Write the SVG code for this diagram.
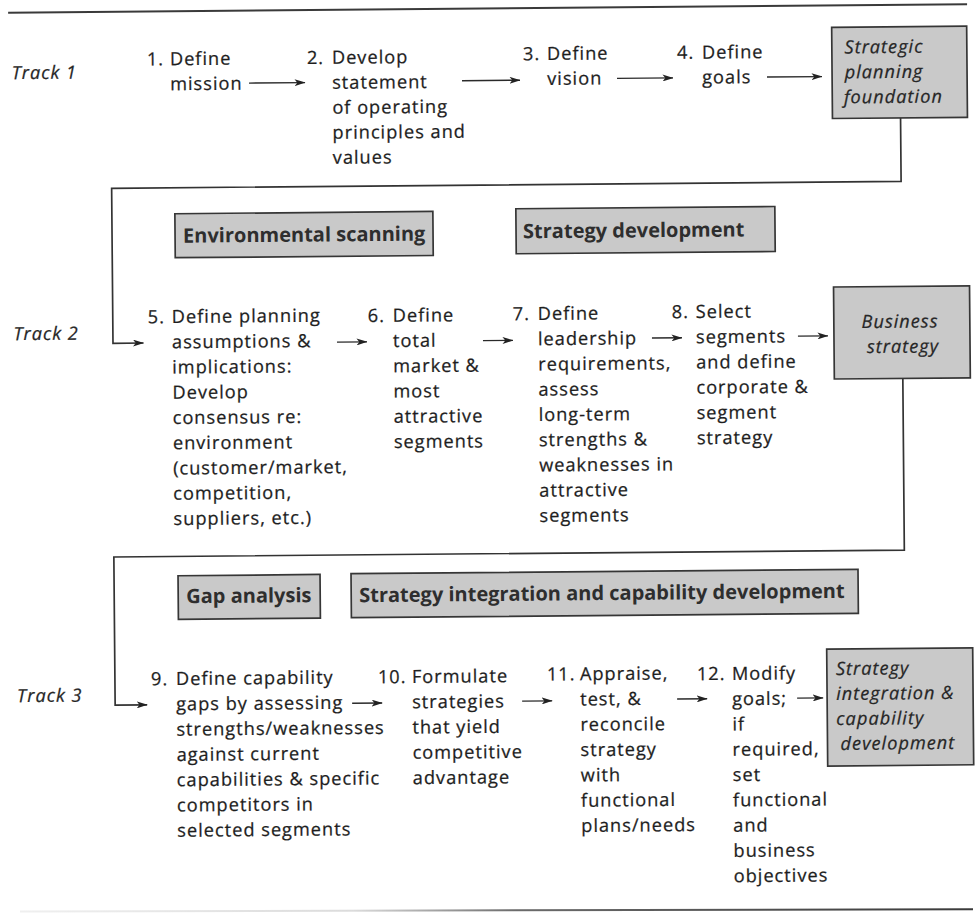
<svg xmlns="http://www.w3.org/2000/svg" width="978" height="914" viewBox="0 0 978 914">
  <defs>
    <style>
      .t { font-family: "Open Sans", "Noto Sans", sans-serif; font-size: 18.2px; letter-spacing: 1px; fill: #1e1e1e; stroke: #1e1e1e; stroke-width: 0.25px; }
      .trk { font-family: "Open Sans", "Noto Sans", sans-serif; font-size: 18.2px; letter-spacing: 1px; font-style: italic; fill: #262626; stroke: #262626; stroke-width: 0.25px; }
      .hd { font-family: "Open Sans", "Noto Sans", sans-serif; font-size: 20px; font-weight: 700; fill: #2e2e2e; }
      .res { font-family: "Open Sans", "Noto Sans", sans-serif; font-size: 18.2px; letter-spacing: 1px; font-style: italic; fill: #262626; stroke: #262626; stroke-width: 0.25px; }
      .box { fill: #c9c9c9; stroke: #363636; stroke-width: 1.7; }
      .rule { stroke: #3a3a3a; stroke-width: 2; fill: none; }
      .arrow { stroke: #2a2a2a; stroke-width: 1.4; fill: none; marker-end: url(#ah); }
      .link { stroke: #333; stroke-width: 1.7; fill: none; marker-end: url(#ah); }
    </style>
    <marker id="ah" viewBox="0 0 11 7" refX="10.5" refY="3.5" markerWidth="11" markerHeight="7" markerUnits="userSpaceOnUse" orient="auto">
      <path d="M0,0 L11,3.5 L0,7 L2.8,3.5 z" fill="#222"/>
    </marker>
    <linearGradient id="fade" x1="0" y1="0" x2="1" y2="0">
      <stop offset="0" stop-color="#3a3a3a" stop-opacity="0.08"/>
      <stop offset="0.35" stop-color="#3a3a3a" stop-opacity="0.18"/>
      <stop offset="0.52" stop-color="#3a3a3a" stop-opacity="0.75"/>
      <stop offset="1" stop-color="#3a3a3a" stop-opacity="1"/>
    </linearGradient>
  </defs>

  <rect x="0" y="0" width="978" height="914" fill="#ffffff"/>

  <!-- whole page sits slightly tilted -->
  <g transform="rotate(-0.5 489 457)">
    <line class="rule" x1="12" y1="8.5" x2="971" y2="8.5"/>

    <!-- track labels -->
    <text id="track-1" class="trk" x="15" y="75">Track 1</text>
    <text id="track-2" class="trk" x="14.5" y="336">Track 2</text>
    <text id="track-3" class="trk" x="15" y="698">Track 3</text>

    <!-- ===== Track 1 ===== -->
    <g id="step-1">
      <text class="t" x="150.4" y="62.5">1.</text>
      <text class="t"><tspan x="173.4" y="62.5">Define</tspan><tspan x="173.4" y="87.5">mission</tspan></text>
    </g>
    <g id="step-2">
      <text class="t" x="310.4" y="62.5">2.</text>
      <text class="t">
        <tspan x="335.4" y="62.5">Develop</tspan>
        <tspan x="335.4" y="87.5">statement</tspan>
        <tspan x="335.4" y="112.5">of operating</tspan>
        <tspan x="335.4" y="137.5">principles and</tspan>
        <tspan x="335.4" y="162.5">values</tspan>
      </text>
    </g>
    <g id="step-3">
      <text class="t" x="526.5" y="60.5">3.</text>
      <text class="t"><tspan x="550.5" y="60.5">Define</tspan><tspan x="550.5" y="85.5">vision</tspan></text>
    </g>
    <g id="step-4">
      <text class="t" x="680.5" y="60.5">4.</text>
      <text class="t"><tspan x="705.5" y="60.5">Define</tspan><tspan x="705.5" y="85.5">goals</tspan></text>
    </g>
    <g id="strategic-planning-foundation">
      <rect class="box" x="835.4" y="30.3" width="135" height="91.2"/>
      <text class="res">
        <tspan x="848" y="56.5">Strategic</tspan>
        <tspan x="848" y="81.5">planning</tspan>
        <tspan x="847" y="106.5">foundation</tspan>
      </text>
    </g>

    <!-- ===== Track 2 ===== -->
    <g id="environmental-scanning">
      <rect class="box" x="177" y="211" width="258" height="44"/>
      <text class="hd" x="185" y="240">Environmental scanning</text>
    </g>
    <g id="strategy-development">
      <rect class="box" x="518" y="209" width="259" height="45"/>
      <text class="hd" x="525" y="238.6">Strategy development</text>
    </g>
    <g id="step-5">
      <text class="t" x="149" y="320.3">5.</text>
      <text class="t">
        <tspan x="173" y="320.3">Define planning</tspan>
        <tspan x="173" y="345.55">assumptions &amp;</tspan>
        <tspan x="173" y="370.8">implications:</tspan>
        <tspan x="173" y="396.05">Develop</tspan>
        <tspan x="173" y="421.3">consensus re:</tspan>
        <tspan x="173" y="446.55">environment</tspan>
        <tspan x="173" y="471.8">(customer/market,</tspan>
        <tspan x="173" y="497.05">competition,</tspan>
        <tspan x="173" y="522.3">suppliers, etc.)</tspan>
      </text>
    </g>
    <g id="step-6">
      <text class="t" x="369" y="321">6.</text>
      <text class="t">
        <tspan x="394" y="321">Define</tspan>
        <tspan x="394" y="346.25">total</tspan>
        <tspan x="394" y="371.5">market &amp;</tspan>
        <tspan x="394" y="396.75">most</tspan>
        <tspan x="394" y="422">attractive</tspan>
        <tspan x="394" y="447.25">segments</tspan>
      </text>
    </g>
    <g id="step-7">
      <text class="t" x="514" y="320.4">7.</text>
      <text class="t">
        <tspan x="539" y="320.4">Define</tspan>
        <tspan x="539" y="345.65">leadership</tspan>
        <tspan x="539" y="370.9">requirements,</tspan>
        <tspan x="539" y="396.15">assess</tspan>
        <tspan x="539" y="421.4">long-term</tspan>
        <tspan x="539" y="446.65">strengths &amp;</tspan>
        <tspan x="539" y="471.9">weaknesses in</tspan>
        <tspan x="539" y="497.15">attractive</tspan>
        <tspan x="539" y="522.4">segments</tspan>
      </text>
    </g>
    <g id="step-8">
      <text class="t" x="673" y="319.8">8.</text>
      <text class="t">
        <tspan x="697" y="319.8">Select</tspan>
        <tspan x="697" y="345.05">segments</tspan>
        <tspan x="697" y="370.3">and define</tspan>
        <tspan x="697" y="395.55">corporate &amp;</tspan>
        <tspan x="697" y="420.8">segment</tspan>
        <tspan x="697" y="446.05">strategy</tspan>
      </text>
    </g>
    <g id="business-strategy">
      <rect class="box" x="835" y="290" width="136" height="92"/>
      <text class="res" text-anchor="middle">
        <tspan x="904" y="331.3">Business</tspan>
        <tspan x="904" y="356.3">strategy</tspan>
      </text>
    </g>

    <!-- ===== Track 3 ===== -->
    <g id="gap-analysis">
      <rect class="box" x="177" y="573" width="142" height="43.6"/>
      <text class="hd" x="185" y="600.5">Gap analysis</text>
    </g>
    <g id="strategy-integration-heading">
      <rect class="box" x="350" y="572.5" width="507" height="44"/>
      <text class="hd" x="358" y="601">Strategy integration and capability development</text>
    </g>
    <g id="step-9">
      <text class="t" x="149" y="682.3">9.</text>
      <text class="t">
        <tspan x="174" y="682.3">Define capability</tspan>
        <tspan x="174" y="707.6">gaps by assessing</tspan>
        <tspan x="174" y="732.9">strengths/weaknesses</tspan>
        <tspan x="174" y="758.2">against current</tspan>
        <tspan x="174" y="783.5">capabilities &amp; specific</tspan>
        <tspan x="174" y="808.8">competitors in</tspan>
        <tspan x="174" y="834.1">selected segments</tspan>
      </text>
    </g>
    <g id="step-10">
      <text class="t" x="376" y="682.3">10.</text>
      <text class="t">
        <tspan x="410" y="682.3">Formulate</tspan>
        <tspan x="410" y="707.6">strategies</tspan>
        <tspan x="410" y="732.9">that yield</tspan>
        <tspan x="410" y="758.2">competitive</tspan>
        <tspan x="410" y="783.5">advantage</tspan>
      </text>
    </g>
    <g id="step-11">
      <text class="t" x="545" y="681">11.</text>
      <text class="t">
        <tspan x="578" y="681">Appraise,</tspan>
        <tspan x="578" y="706.3">test, &amp;</tspan>
        <tspan x="578" y="731.6">reconcile</tspan>
        <tspan x="578" y="756.9">strategy</tspan>
        <tspan x="578" y="782.2">with</tspan>
        <tspan x="578" y="807.5">functional</tspan>
        <tspan x="578" y="832.8">plans/needs</tspan>
      </text>
    </g>
    <g id="step-12">
      <text class="t" x="695" y="682">12.</text>
      <text class="t">
        <tspan x="730" y="682">Modify</tspan>
        <tspan x="730" y="707.3">goals;</tspan>
        <tspan x="730" y="732.6">if</tspan>
        <tspan x="730" y="757.9">required,</tspan>
        <tspan x="730" y="783.2">set</tspan>
        <tspan x="730" y="808.5">functional</tspan>
        <tspan x="730" y="833.8">and</tspan>
        <tspan x="730" y="859.1">business</tspan>
        <tspan x="730" y="884.4">objectives</tspan>
      </text>
    </g>
    <g id="strategy-integration-result">
      <rect class="box" x="825" y="652" width="146" height="117"/>
      <text class="res">
        <tspan x="834" y="678">Strategy</tspan>
        <tspan x="834" y="703">integration &amp;</tspan>
        <tspan x="834" y="728">capability</tspan>
        <tspan x="838" y="753">development</tspan>
      </text>
    </g>

    <!-- ===== connectors ===== -->
    <g id="connectors">
      <path class="arrow" d="M252.3,81 H308.3"/>
      <path class="arrow" d="M465.3,80.5 H523.3"/>
      <path class="arrow" d="M620.3,79.5 H676.3"/>
      <path class="arrow" d="M770.3,79.5 H825.3"/>
      <path class="link" d="M903.5,121.5 V185 H114 V340 H144.5"/>

      <path class="arrow" d="M338,340.8 H368"/>
      <path class="arrow" d="M484,340.6 H514"/>
      <path class="arrow" d="M653,339.5 H683"/>
      <path class="arrow" d="M799,338.8 H829"/>
      <path class="link" d="M903.5,382 V553.7 H113 V701.8 H145"/>

      <path class="arrow" d="M350,702 H380"/>
      <path class="arrow" d="M520,701.4 H550"/>
      <path class="arrow" d="M675,700.7 H705"/>
      <path class="arrow" d="M795,700.8 H821"/>
    </g>
  </g>

  <!-- bottom rule, faint toward the left -->
  <line x1="20" y1="911.5" x2="973" y2="909.3" stroke="url(#fade)" stroke-width="2"/>
</svg>
